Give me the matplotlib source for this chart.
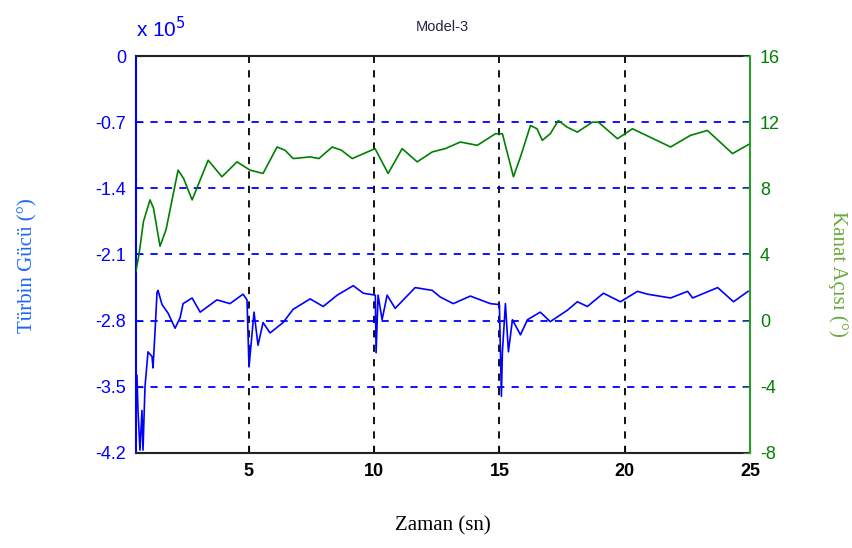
import matplotlib
matplotlib.use('Agg')
import matplotlib.pyplot as plt

# Kanat acisi (right axis, degrees)
t_kanat = [0.50, 0.62, 0.80, 1.06, 1.20, 1.46, 1.70, 2.18, 2.40, 2.74, 3.38, 3.93,
           4.53, 5.05, 5.57, 6.13, 6.45, 6.77, 7.45, 7.80, 8.33, 8.70, 9.13, 10.04,
           10.56, 11.12, 11.72, 12.32, 12.84, 13.44, 14.12, 14.84, 15.12, 15.56,
           15.84, 16.24, 16.50, 16.71, 17.03, 17.35, 17.70, 18.11, 18.71, 18.95,
           19.71, 20.31, 21.83, 22.62, 23.30, 24.30, 25.0]
kanat = [3.0, 4.0, 6.0, 7.3, 6.8, 4.5, 5.5, 9.1, 8.6, 7.3, 9.7, 8.7,
         9.6, 9.1, 8.9, 10.5, 10.3, 9.8, 9.9, 9.8, 10.5, 10.3, 9.8, 10.4,
         8.9, 10.4, 9.6, 10.2, 10.4, 10.8, 10.6, 11.3, 11.3, 8.7,
         9.9, 11.8, 11.6, 10.9, 11.3, 12.1, 11.7, 11.4, 12.0, 12.0,
         11.0, 11.6, 10.5, 11.2, 11.5, 10.1, 10.7]

# Turbin gucu (left axis, x 10^5)
t_guc = [0.54, 0.58, 0.66, 0.74, 0.78, 0.86, 0.98, 1.14, 1.18, 1.26, 1.34, 1.38,
         1.54, 1.78, 2.06, 2.26, 2.38, 2.74, 3.06, 3.73, 4.25, 4.77, 4.93, 5.01,
         5.21, 5.37, 5.57, 5.85, 6.37, 6.77, 7.45, 7.97, 8.53, 9.17, 9.57, 10.05,
         10.08, 10.16, 10.32, 10.52, 10.84, 11.64, 12.32, 12.64, 13.16, 13.84,
         14.64, 15.0, 15.08, 15.12, 15.24, 15.36, 15.52, 15.84, 16.12, 16.63,
         17.03, 17.71, 18.11, 18.51, 19.15, 19.83, 20.51, 20.91, 21.83, 22.51,
         22.71, 23.71, 24.34, 24.92]
guc = [-3.38, -3.75, -4.17, -3.75, -4.17, -3.5, -3.13, -3.18, -3.3, -2.92, -2.5, -2.48,
       -2.63, -2.72, -2.88, -2.77, -2.62, -2.56, -2.71, -2.58, -2.62, -2.52, -2.58, -3.29,
       -2.71, -3.06, -2.82, -2.93, -2.82, -2.68, -2.57, -2.65, -2.53, -2.43, -2.51, -2.53,
       -3.14, -2.53, -2.79, -2.53, -2.67, -2.45, -2.48, -2.55, -2.62, -2.54,
       -2.62, -2.63, -3.6, -3.13, -2.62, -3.13, -2.79, -2.95, -2.79, -2.71,
       -2.81, -2.69, -2.6, -2.65, -2.51, -2.6, -2.49, -2.52, -2.56, -2.49,
       -2.56, -2.45, -2.6, -2.49]

left_ticks = [-4.2, -3.5, -2.8, -2.1, -1.4, -0.7, 0]
left_labels = ['-4.2', '-3.5', '-2.8', '-2.1', '-1.4', '-0.7', '0']
right_ticks = [-8, -4, 0, 4, 8, 12, 16]
x_ticks = [5, 10, 15, 20, 25]

blue = '#0000ff'
green = '#008000'
green_spine = '#2e9a2e'

fig = plt.figure(figsize=(8.53, 5.48), dpi=100)
ax = fig.add_axes([0.1594, 0.1734, 0.7199, 0.7244])
ax2 = ax.twinx()

ax.plot(t_guc, guc, color=blue, lw=1.2)
ax2.plot(t_kanat, kanat, color=green, lw=1.2)

ax.set_xlim(0.5, 25)
ax.set_ylim(-4.2, 0)
ax2.set_ylim(-8, 16)

ax.set_xticks(x_ticks)
ax.set_xticklabels([str(v) for v in x_ticks], fontsize=13, fontweight='bold',
                   family='Liberation Sans')
ax.set_yticks(left_ticks)
ax.set_yticklabels(left_labels, fontsize=13, color=blue, family='Liberation Sans')
ax2.set_yticks(right_ticks)
ax2.set_yticklabels([str(v) for v in right_ticks], fontsize=13, color=green,
                    family='Liberation Sans')

ax.tick_params(axis='both', direction='in', length=5, pad=7)
ax.tick_params(axis='y', colors=blue, labelcolor=blue)
ax2.tick_params(axis='y', direction='in', length=5, pad=7, colors=green_spine,
                labelcolor=green)

# grids
for xv in [5, 10, 15, 20]:
    ax.axvline(xv, color='black', ls=(0, (4, 4)), lw=1.3, zorder=0)
for yv in left_ticks[1:-1]:
    ax.axhline(yv, color=blue, ls=(0, (4, 4)), lw=1.3, zorder=0)

ax.spines['left'].set_color(blue)
ax.spines['left'].set_linewidth(1.5)
ax.spines['top'].set_color('#222222')
ax.spines['bottom'].set_color('#222222')
ax.spines['top'].set_linewidth(1.5)
ax.spines['bottom'].set_linewidth(1.5)
ax2.spines['right'].set_color(green_spine)
ax2.spines['right'].set_linewidth(1.5)
ax2.spines['left'].set_visible(False)
ax2.spines['top'].set_visible(False)
ax2.spines['bottom'].set_visible(False)
ax.spines['right'].set_visible(False)

fig.text(0.160, 0.925, r'x 10$^5$', color=blue, fontsize=15,
         family='Liberation Sans', ha='left', va='bottom')
fig.text(0.519, 0.95, 'Model-3', fontsize=10.5, family='Liberation Sans',
         ha='center', va='center', color='#222244')

fig.text(0.033, 0.516, 'Türbin Gücü (°)', rotation=90, color='#1a66ff',
         fontsize=15, family='Liberation Serif', ha='center', va='center')
fig.text(0.982, 0.5, 'Kanat Açısı (°)', rotation=270, color='#6aaa3a',
         fontsize=15, family='Liberation Serif', ha='center', va='center')
fig.text(0.519, 0.04, 'Zaman (sn)', color='black', fontsize=15,
         family='Liberation Serif', ha='center', va='center')

fig.savefig('out.png', dpi=100)
